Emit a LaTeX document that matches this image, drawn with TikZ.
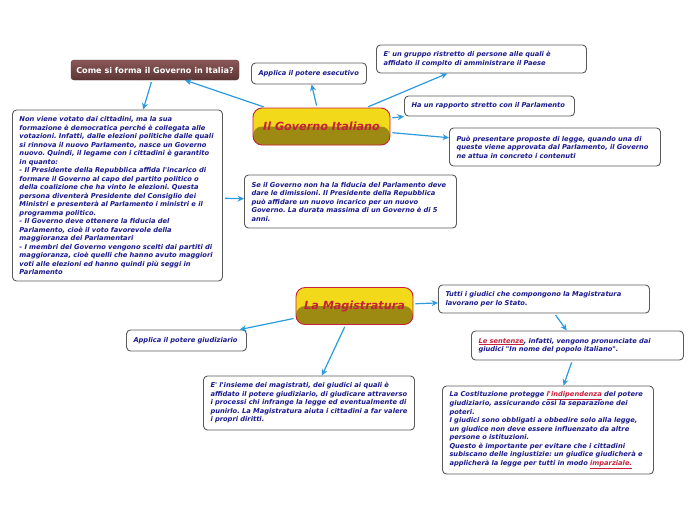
\documentclass[tikz,border=0pt]{standalone}
\usepackage{fontspec}
\newfontfamily\mapfont{DejaVu Sans}
\usetikzlibrary{arrows.meta}
\frenchspacing
\definecolor{txtblue}{HTML}{1A1A8C}
\definecolor{linkblue}{HTML}{2B9BDE}
\definecolor{govred}{HTML}{C8203C}
\definecolor{govyellow}{HTML}{F2DA1A}
\definecolor{govolive}{HTML}{9C8A12}
\definecolor{boxgray}{HTML}{5A5A5A}
\definecolor{cometop}{HTML}{8A5858}
\definecolor{comebot}{HTML}{5C3434}
\newcommand{\redu}[1]{\textcolor{govred}{\underline{#1}}}
\tikzset{
  note/.style={draw=boxgray, line width=0.9pt, rounded corners=4pt, fill=white,
    text=txtblue, font=\mapfont\bfseries\itshape\fontsize{6.7}{8.5}\selectfont,
    align=left, inner xsep=7pt, inner ysep=0pt},
  govbtn/.style={draw=govred, line width=0.9pt, rounded corners=9pt, fill=govyellow,
    path picture={\fill[govolive] (path picture bounding box.west) rectangle (path picture bounding box.south east);},
    text=govred, font=\mapfont\bfseries\itshape\fontsize{11.2}{13}\selectfont,
    minimum height=37pt, inner sep=0pt},
  comebtn/.style={draw=comebot, rounded corners=3pt, top color=cometop, bottom color=comebot,
    text=white, font=\mapfont\bfseries\fontsize{8.1}{10}\selectfont,
    minimum width=168pt, minimum height=20pt, inner sep=0pt},
  link/.style={draw=linkblue, line width=1.2pt, -{Stealth[length=6.5pt,width=6pt]}, shorten <=2pt}
}
\begin{document}
\begin{tikzpicture}[x=1pt,y=-1pt]
  \useasboundingbox (0,0) rectangle (696,520);
  % Governo
  \node[govbtn, minimum width=137pt] (gov) at (321.5,126.5) {Il Governo Italiano};
  \node[comebtn] (come) at (155,70) {Come si forma il Governo in Italia?};
  \node[note, text width=101pt, minimum height=21pt] (esec) at (309,73.5) {Applica il potere esecutivo};
  \node[note, text width=196pt, minimum height=28pt] (gruppo) at (481.5,59) {E' un gruppo ristretto di persone alle quali è\\
    affidato il compito di amministrare il Paese};
  \node[note, text width=156pt, minimum height=20pt] (rapporto) at (489.5,106) {Ha un rapporto stretto con il Parlamento};
  \node[note, text width=197pt, minimum height=38pt] (proposte) at (555,147) {Può presentare proposte di legge, quando una di\\
    queste viene approvata dal Parlamento, il Governo\\
    ne attua in concreto i contenuti};
  \node[note, text width=196pt, minimum height=171pt] (forma) at (117.5,195.5) {Non viene votato dai cittadini, ma la sua\\
    formazione è democratica perché è collegata alle\\
    votazioni. Infatti, dalle elezioni politiche dalle quali\\
    si rinnova il nuovo Parlamento, nasce un Governo\\
    nuovo. Quindi, il legame con i cittadini è garantito\\
    in quanto:\\
    - Il Presidente della Repubblica affida l'incarico di\\
    formare il Governo al capo del partito politico o\\
    della coalizione che ha vinto le elezioni. Questa\\
    persona diventerà Presidente del Consiglio dei\\
    Ministri e presenterà al Parlamento i ministri e il\\
    programma politico.\\
    - Il Governo deve ottenere la fiducia del\\
    Parlamento, cioè il voto favorevole della\\
    maggioranza dei Parlamentari\\
    - I membri del Governo vengono scelti dai partiti di\\
    maggioranza, cioè quelli che hanno avuto maggiori\\
    voti alle elezioni ed hanno quindi più seggi in\\
    Parlamento};
  \node[note, text width=198pt, minimum height=53pt] (fiducia) at (350.5,201.5) {Se il Governo non ha la fiducia del Parlamento deve\\
    dare le dimissioni. Il Presidente della Repubblica\\
    può affidare un nuovo incarico per un nuovo\\
    Governo. La durata massima di un Governo è di 5\\
    anni.};
  % Magistratura
  \node[govbtn, minimum width=117pt] (magi) at (354.5,306) {La Magistratura};
  \node[note, text width=197pt, minimum height=28pt] (giudici) at (544,299) {Tutti i giudici che compongono la Magistratura\\
    lavorano per lo Stato.};
  \node[note, text width=198pt, minimum height=29pt] (sentenze) at (577.5,345.5) {\redu{Le sentenze}, infatti, vengono pronunciate dai\\
    giudici "In nome del popolo italiano".};
  \node[note, text width=106pt, minimum height=21pt] (giudiz) at (186.5,340.5) {Applica il potere giudiziario};
  \node[note, text width=197pt, minimum height=54pt] (insieme) at (309,403) {E' l'insieme dei magistrati, dei giudici ai quali è\\
    affidato il potere giudiziario, di giudicare attraverso\\
    i processi chi infrange la legge ed eventualmente di\\
    punirlo. La Magistratura aiuta i cittadini a far valere\\
    i propri diritti.};
  \node[note, text width=197pt, minimum height=88pt] (costit) at (548,430) {La Costituzione protegge \redu{l'indipendenza} del potere\\
    giudiziario, assicurando così la separazione dei\\
    poteri.\\
    I giudici sono obbligati a obbedire solo alla legge,\\
    un giudice non deve essere influenzato da altre\\
    persone o istituzioni.\\
    Questo è importante per evitare che i cittadini\\
    subiscano delle ingiustizie: un giudice giudicherà e\\
    applicherà la legge per tutti in modo \redu{imparziale.}};
  % connectors
  \path (gov) edge [link] (come);
  \path (come) edge [link] (forma);
  \path (gov) edge [link] (esec);
  \path (gov) edge [link] (gruppo);
  \path (gov) edge [link] (rapporto);
  \path (gov) edge [link] (proposte);
  \path (forma) edge [link] (fiducia);
  \path (magi) edge [link] (giudici);
  \path (giudici) edge [link] (sentenze);
  \path (sentenze) edge [link] (costit);
  \path (magi) edge [link] (giudiz);
  \path (magi) edge [link] (insieme);
\end{tikzpicture}
\end{document}
